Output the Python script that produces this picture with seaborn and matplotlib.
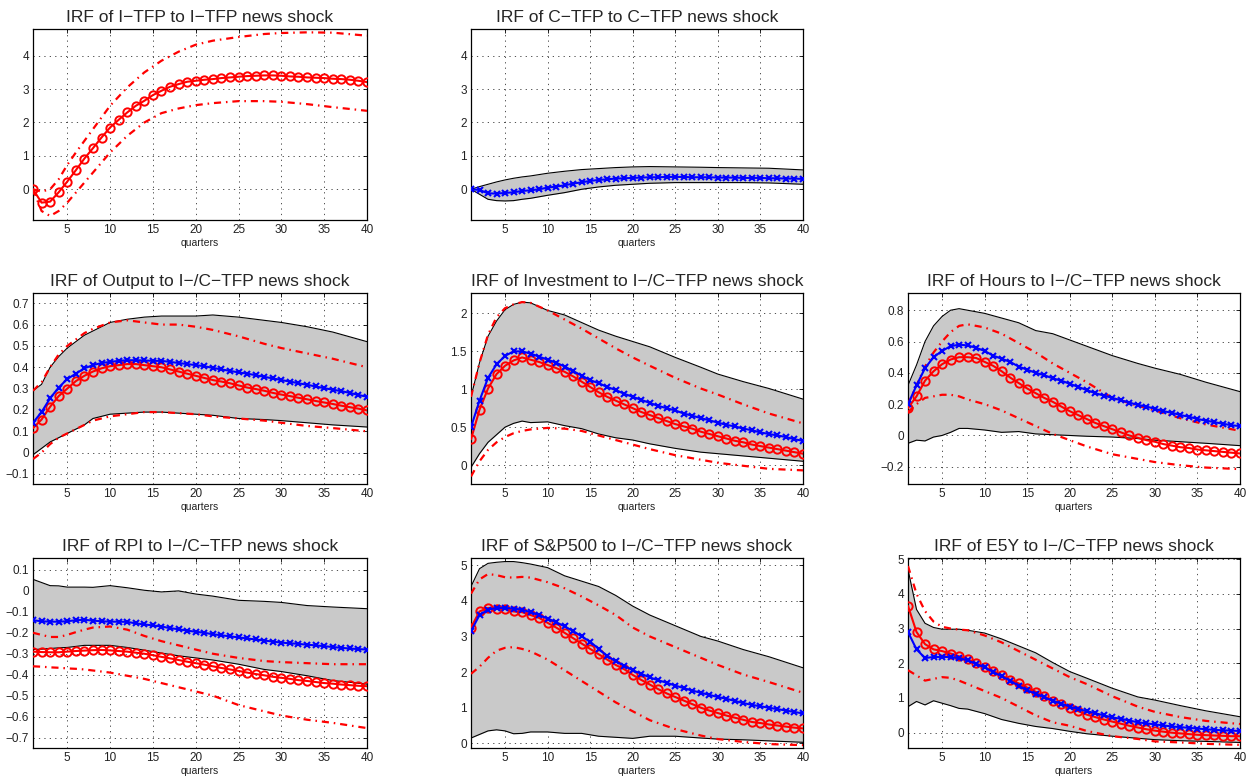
import matplotlib
matplotlib.use("Agg")
import matplotlib.pyplot as plt
import seaborn as sns
from matplotlib.ticker import FuncFormatter

# quarters for the point estimates and the coarser grid used for the bands
Q = list(range(1, 41))
QB = [1, 2, 3, 4, 5, 6, 7, 8, 10, 12, 14, 16, 18, 20, 22, 25, 28, 30, 33, 36, 40]

# ---- IRF of I-TFP to I-TFP news shock
itfp_red = [0, -0.4, -0.37, -0.09, 0.23, 0.57, 0.92, 1.23, 1.55, 1.85,
            2.08, 2.3, 2.5, 2.65, 2.82, 2.95, 3.07, 3.15, 3.22, 3.25,
            3.28, 3.3, 3.33, 3.35, 3.37, 3.39, 3.4, 3.41, 3.41, 3.4,
            3.38, 3.37, 3.35, 3.34, 3.33, 3.31, 3.3, 3.28, 3.25, 3.21]
itfp_red_hi = [0, -0.07, 0.0, 0.3, 0.73, 1.1, 1.45, 1.8, 2.5, 3.05, 3.5,
               3.85, 4.12, 4.33, 4.45, 4.56, 4.65, 4.68, 4.7, 4.69, 4.6]
itfp_red_lo = [0, -0.65, -0.8, -0.65, -0.4, -0.1, 0.2, 0.5, 1.1, 1.6, 2.0,
               2.28, 2.42, 2.52, 2.58, 2.64, 2.64, 2.62, 2.55, 2.46, 2.35]

# ---- IRF of C-TFP to C-TFP news shock
ctfp_blue = [0, -0.02, -0.12, -0.13, -0.11, -0.09, -0.05, -0.03, 0.0, 0.05,
             0.08, 0.12, 0.17, 0.21, 0.25, 0.28, 0.3, 0.32, 0.33, 0.34,
             0.35, 0.36, 0.36, 0.37, 0.37, 0.37, 0.36, 0.36, 0.36, 0.35,
             0.35, 0.35, 0.34, 0.34, 0.34, 0.33, 0.33, 0.32, 0.32, 0.31]
ctfp_gray_hi = [0, 0.08, 0.15, 0.22, 0.28, 0.33, 0.37, 0.4, 0.48, 0.54, 0.59,
                0.62, 0.65, 0.67, 0.68, 0.67, 0.66, 0.65, 0.64, 0.63, 0.58]
ctfp_gray_lo = [0, -0.15, -0.3, -0.34, -0.35, -0.34, -0.3, -0.27, -0.18, -0.1, 0.0,
                0.07, 0.12, 0.15, 0.18, 0.2, 0.2, 0.2, 0.2, 0.19, 0.15]

# ---- Output
out_red = [0.115, 0.155, 0.215, 0.265, 0.3, 0.335, 0.36, 0.38, 0.395, 0.405,
           0.41, 0.415, 0.415, 0.41, 0.405, 0.4, 0.39, 0.38, 0.37, 0.36,
           0.35, 0.34, 0.333, 0.325, 0.315, 0.305, 0.298, 0.29, 0.28, 0.272,
           0.265, 0.257, 0.25, 0.242, 0.235, 0.228, 0.22, 0.213, 0.206, 0.198]
out_blue = [0.14, 0.19, 0.255, 0.305, 0.345, 0.37, 0.395, 0.41, 0.42, 0.425,
            0.43, 0.433, 0.433, 0.432, 0.43, 0.43, 0.425, 0.42, 0.415, 0.41,
            0.405, 0.397, 0.39, 0.383, 0.376, 0.37, 0.363, 0.355, 0.348, 0.34,
            0.333, 0.325, 0.318, 0.31, 0.302, 0.295, 0.288, 0.28, 0.27, 0.262]
out_gray_hi = [0.29, 0.32, 0.4, 0.45, 0.49, 0.52, 0.55, 0.57, 0.61, 0.625, 0.635,
               0.64, 0.64, 0.64, 0.645, 0.635, 0.62, 0.61, 0.59, 0.565, 0.52]
out_gray_lo = [-0.01, 0.02, 0.05, 0.07, 0.09, 0.11, 0.13, 0.16, 0.18, 0.185, 0.19,
               0.19, 0.185, 0.18, 0.175, 0.16, 0.155, 0.15, 0.14, 0.13, 0.12]
out_red_hi = [0.29, 0.33, 0.4, 0.46, 0.5, 0.53, 0.56, 0.58, 0.61, 0.62, 0.61,
              0.6, 0.6, 0.59, 0.575, 0.545, 0.51, 0.49, 0.465, 0.44, 0.4]
out_red_lo = [-0.03, 0.0, 0.04, 0.07, 0.09, 0.11, 0.13, 0.15, 0.17, 0.18, 0.19,
              0.19, 0.185, 0.18, 0.17, 0.16, 0.15, 0.14, 0.125, 0.115, 0.1]

# ---- Investment
inv_red = [0.34, 0.73, 1.01, 1.2, 1.31, 1.38, 1.42, 1.39, 1.36, 1.32,
           1.28, 1.23, 1.17, 1.1, 1.03, 0.96, 0.9, 0.85, 0.8, 0.75,
           0.7, 0.66, 0.62, 0.58, 0.54, 0.51, 0.48, 0.44, 0.41, 0.38,
           0.35, 0.32, 0.3, 0.27, 0.25, 0.23, 0.21, 0.19, 0.17, 0.15]
inv_blue = [0.5, 0.85, 1.15, 1.33, 1.44, 1.5, 1.5, 1.47, 1.43, 1.39,
            1.35, 1.3, 1.24, 1.18, 1.12, 1.08, 1.03, 0.99, 0.94, 0.9,
            0.86, 0.82, 0.78, 0.75, 0.72, 0.68, 0.65, 0.62, 0.59, 0.56,
            0.53, 0.51, 0.48, 0.46, 0.43, 0.41, 0.39, 0.37, 0.34, 0.32]
inv_gray_hi = [0.9, 1.35, 1.7, 1.9, 2.05, 2.12, 2.15, 2.14, 2.04, 1.98, 1.88,
               1.78, 1.7, 1.63, 1.56, 1.42, 1.29, 1.2, 1.1, 1.01, 0.87]
inv_gray_lo = [-0.03, 0.15, 0.3, 0.4, 0.5, 0.55, 0.58, 0.56, 0.57, 0.52, 0.48,
               0.41, 0.36, 0.33, 0.28, 0.22, 0.17, 0.15, 0.12, 0.09, 0.05]
inv_red_hi = [0.9, 1.35, 1.72, 1.95, 2.07, 2.12, 2.15, 2.14, 2.04, 1.92, 1.8,
              1.67, 1.54, 1.42, 1.31, 1.15, 1.01, 0.93, 0.8, 0.68, 0.55]
inv_red_lo = [-0.15, 0.05, 0.2, 0.3, 0.37, 0.42, 0.45, 0.47, 0.49, 0.48, 0.45,
              0.39, 0.33, 0.27, 0.21, 0.13, 0.07, 0.03, -0.01, -0.05, -0.07]

# ---- Hours
hrs_red = [0.175, 0.25, 0.35, 0.41, 0.455, 0.485, 0.5, 0.5, 0.495, 0.47,
           0.445, 0.41, 0.37, 0.335, 0.3, 0.27, 0.24, 0.215, 0.185, 0.155,
           0.13, 0.105, 0.08, 0.06, 0.04, 0.02, 0.0, -0.015, -0.03, -0.04,
           -0.055, -0.065, -0.075, -0.08, -0.09, -0.095, -0.1, -0.105, -0.11, -0.115]
hrs_blue = [0.2, 0.32, 0.43, 0.5, 0.54, 0.57, 0.58, 0.575, 0.56, 0.54,
            0.51, 0.49, 0.47, 0.44, 0.42, 0.4, 0.385, 0.365, 0.35, 0.33,
            0.31, 0.29, 0.27, 0.255, 0.24, 0.225, 0.21, 0.195, 0.185, 0.17,
            0.155, 0.145, 0.13, 0.12, 0.105, 0.095, 0.085, 0.075, 0.065, 0.06]
hrs_gray_hi = [0.32, 0.45, 0.6, 0.7, 0.76, 0.8, 0.81, 0.8, 0.78, 0.75, 0.72,
               0.67, 0.65, 0.61, 0.57, 0.51, 0.46, 0.43, 0.39, 0.34, 0.28]
hrs_gray_lo = [-0.05, -0.03, -0.035, -0.01, 0.0, 0.02, 0.045, 0.045, 0.035, 0.02, 0.025,
               0.01, 0.005, 0.0, -0.005, -0.01, -0.02, -0.03, -0.04, -0.05, -0.065]
hrs_red_hi = [0.2, 0.32, 0.44, 0.53, 0.6, 0.66, 0.7, 0.71, 0.69, 0.65, 0.59,
              0.53, 0.46, 0.4, 0.34, 0.24, 0.19, 0.16, 0.11, 0.07, 0.03]
hrs_red_lo = [0.15, 0.2, 0.24, 0.25, 0.26, 0.26, 0.25, 0.23, 0.2, 0.16, 0.11,
              0.06, 0.01, -0.03, -0.07, -0.12, -0.15, -0.17, -0.19, -0.205, -0.215]

# ---- RPI
rpi_red = [-0.29, -0.292, -0.293, -0.293, -0.29, -0.287, -0.285, -0.283, -0.282, -0.284,
           -0.287, -0.29, -0.295, -0.3, -0.307, -0.315, -0.322, -0.33, -0.338, -0.345,
           -0.352, -0.36, -0.368, -0.375, -0.382, -0.39, -0.397, -0.403, -0.41, -0.415,
           -0.42, -0.426, -0.43, -0.435, -0.44, -0.443, -0.447, -0.45, -0.453, -0.455]
rpi_blue = [-0.14, -0.145, -0.147, -0.147, -0.145, -0.14, -0.138, -0.142, -0.145, -0.147,
            -0.147, -0.148, -0.155, -0.16, -0.165, -0.17, -0.178, -0.183, -0.19, -0.195,
            -0.2, -0.207, -0.212, -0.217, -0.222, -0.227, -0.232, -0.237, -0.242, -0.247,
            -0.25, -0.253, -0.257, -0.26, -0.264, -0.268, -0.272, -0.275, -0.278, -0.28]
rpi_gray_hi = [0.055, 0.04, 0.025, 0.024, 0.018, 0.018, 0.018, 0.017, 0.025, 0.015, 0.003,
               -0.005, 0.0, -0.015, -0.025, -0.045, -0.05, -0.055, -0.07, -0.077, -0.085]
rpi_gray_lo = [-0.28, -0.278, -0.275, -0.272, -0.27, -0.265, -0.26, -0.26, -0.26, -0.27, -0.283,
               -0.297, -0.31, -0.32, -0.33, -0.35, -0.375, -0.385, -0.405, -0.428, -0.445]
rpi_red_hi = [-0.2, -0.21, -0.22, -0.22, -0.21, -0.197, -0.185, -0.175, -0.17, -0.185, -0.215,
              -0.24, -0.26, -0.28, -0.3, -0.32, -0.335, -0.34, -0.345, -0.35, -0.35]
rpi_red_lo = [-0.36, -0.362, -0.365, -0.367, -0.37, -0.372, -0.375, -0.38, -0.39, -0.405, -0.42,
              -0.44, -0.46, -0.48, -0.5, -0.545, -0.575, -0.595, -0.615, -0.63, -0.655]

# ---- S&P500
sp_red = [3.25, 3.7, 3.8, 3.78, 3.77, 3.7, 3.68, 3.6, 3.52, 3.38,
          3.25, 3.1, 2.95, 2.8, 2.65, 2.5, 2.35, 2.2, 2.08, 1.92,
          1.78, 1.65, 1.52, 1.4, 1.3, 1.2, 1.1, 1.0, 0.92, 0.85,
          0.78, 0.72, 0.66, 0.6, 0.57, 0.53, 0.5, 0.47, 0.44, 0.42]
sp_blue = [3.15, 3.6, 3.75, 3.8, 3.8, 3.78, 3.75, 3.68, 3.6, 3.5,
           3.4, 3.28, 3.15, 3.0, 2.85, 2.65, 2.45, 2.3, 2.18, 2.05,
           1.95, 1.85, 1.77, 1.7, 1.62, 1.55, 1.48, 1.42, 1.36, 1.3,
           1.25, 1.19, 1.13, 1.08, 1.04, 1.0, 0.96, 0.92, 0.88, 0.84]
sp_gray_hi = [4.4, 4.9, 5.05, 5.08, 5.1, 5.1, 5.07, 5.03, 4.93, 4.7, 4.55,
              4.4, 4.15, 3.85, 3.6, 3.3, 3.0, 2.87, 2.63, 2.43, 2.12]
sp_gray_lo = [0.15, 0.25, 0.35, 0.38, 0.35, 0.27, 0.28, 0.32, 0.32, 0.28, 0.28,
              0.2, 0.17, 0.14, 0.2, 0.2, 0.15, 0.12, 0.1, 0.07, 0.03]
sp_red_hi = [4.2, 4.6, 4.75, 4.72, 4.66, 4.65, 4.67, 4.65, 4.52, 4.35, 4.12,
             3.87, 3.6, 3.25, 3.0, 2.7, 2.4, 2.2, 1.93, 1.72, 1.42]
sp_red_lo = [1.95, 2.15, 2.4, 2.6, 2.68, 2.7, 2.65, 2.58, 2.35, 2.05, 1.75,
             1.45, 1.15, 0.9, 0.65, 0.4, 0.22, 0.12, 0.04, -0.02, -0.05]

# ---- E5Y
e5y_red = [3.65, 2.9, 2.55, 2.4, 2.35, 2.28, 2.2, 2.12, 2.0, 1.88,
           1.78, 1.65, 1.52, 1.42, 1.3, 1.18, 1.05, 0.92, 0.82, 0.72,
           0.62, 0.52, 0.45, 0.38, 0.32, 0.26, 0.2, 0.15, 0.1, 0.06,
           0.03, 0.0, -0.02, -0.04, -0.06, -0.07, -0.08, -0.09, -0.1, -0.1]
e5y_blue = [2.9, 2.4, 2.15, 2.18, 2.18, 2.18, 2.15, 2.08, 1.98, 1.88,
            1.75, 1.62, 1.5, 1.35, 1.22, 1.12, 1.02, 0.92, 0.84, 0.75,
            0.68, 0.62, 0.56, 0.5, 0.44, 0.4, 0.35, 0.3, 0.27, 0.24,
            0.21, 0.18, 0.16, 0.14, 0.12, 0.1, 0.08, 0.07, 0.06, 0.05]
e5y_gray_hi = [4.7, 3.55, 3.15, 3.03, 2.98, 2.98, 2.98, 2.95, 2.87, 2.7, 2.5,
               2.3, 2.02, 1.76, 1.57, 1.28, 1.03, 0.94, 0.78, 0.63, 0.46]
e5y_gray_lo = [0.75, 0.9, 0.8, 0.92, 0.85, 0.78, 0.7, 0.68, 0.55, 0.38, 0.27,
               0.18, 0.12, 0.04, -0.03, -0.1, -0.16, -0.2, -0.23, -0.25, -0.28]
e5y_red_hi = [4.8, 4.0, 3.5, 3.2, 3.05, 3.0, 2.97, 2.95, 2.8, 2.6, 2.35,
              2.1, 1.85, 1.6, 1.4, 1.05, 0.75, 0.6, 0.45, 0.34, 0.25]
e5y_red_lo = [1.8, 1.65, 1.5, 1.55, 1.6, 1.58, 1.5, 1.4, 1.2, 1.0, 0.75,
              0.5, 0.3, 0.2, 0.05, -0.1, -0.18, -0.25, -0.28, -0.32, -0.35]

XTICKS = [5, 10, 15, 20, 25, 30, 35, 40]

W, H = 1258, 779
COLS = [(33, 367), (471, 803), (908, 1240)]
ROWS = [(29, 220), (293, 484), (558, 748)]

sns.set_style("white")
plt.rcParams["font.family"] = ["Liberation Sans", "DejaVu Sans"]

fig = plt.figure(figsize=(W / 100, H / 100), dpi=100)

DASHDOT = (0, (3.2, 2.2, 0.7, 2.2))


def fmt(v, _pos):
    return ("%g" % round(v, 4)).replace("-", "\u2212")


def draw_panel(r, c, title, ylim, yticks, red=None, red_hi=None, red_lo=None,
               blue=None, gray_hi=None, gray_lo=None):
    (x0, x1), (y0, y1) = COLS[c], ROWS[r]
    ax = fig.add_axes([x0 / W, 1 - y1 / H, (x1 - x0) / W, (y1 - y0) / H])
    if gray_hi is not None:
        ax.fill_between(QB, gray_lo, gray_hi, color="#c9c9c9", lw=0, zorder=1)
        sns.lineplot(x=QB, y=gray_hi, ax=ax, color="black", lw=0.8, zorder=2)
        sns.lineplot(x=QB, y=gray_lo, ax=ax, color="black", lw=0.8, zorder=2)
    if red_hi is not None:
        sns.lineplot(x=QB, y=red_hi, ax=ax, color="red", lw=1.6, linestyle=DASHDOT, zorder=3)
        sns.lineplot(x=QB, y=red_lo, ax=ax, color="red", lw=1.6, linestyle=DASHDOT, zorder=3)
    if red is not None:
        sns.lineplot(x=Q, y=red, ax=ax, color="red", lw=1.5, marker="o", markersize=6,
                     markerfacecolor="none", markeredgecolor="red", markeredgewidth=1.4, zorder=4)
    if blue is not None:
        sns.lineplot(x=Q, y=blue, ax=ax, color="blue", lw=1.5, marker="x", markersize=4.5,
                     markeredgecolor="blue", markeredgewidth=1.5, zorder=5)
    ax.set_xlim(1, 40)
    ax.set_ylim(*ylim)
    ax.set_xticks(XTICKS)
    ax.set_yticks(yticks)
    ax.yaxis.set_major_formatter(FuncFormatter(fmt))
    ax.tick_params(direction="in", length=3, width=0.6, labelsize=8.5, pad=3,
                   top=True, right=True, colors="black", labelcolor="#222222")
    ax.grid(True, linestyle=(0, (1.5, 5)), color="#333333", lw=0.6)
    for s in ax.spines.values():
        s.set_color("black")
        s.set_linewidth(0.9)
    ax.set_title(title, fontsize=12.5, pad=5)
    ax.set_xlabel("quarters", fontsize=7.5, labelpad=1, color="#222222")
    ax.set_ylabel("")
    return ax


draw_panel(0, 0, "IRF of I\u2212TFP to I\u2212TFP news shock", (-0.92, 4.8), [0, 1, 2, 3, 4],
           red=itfp_red, red_hi=itfp_red_hi, red_lo=itfp_red_lo)
draw_panel(0, 1, "IRF of C\u2212TFP to C\u2212TFP news shock", (-0.92, 4.8), [0, 1, 2, 3, 4],
           blue=ctfp_blue, gray_hi=ctfp_gray_hi, gray_lo=ctfp_gray_lo)
draw_panel(1, 0, "IRF of Output to I\u2212/C\u2212TFP news shock", (-0.147, 0.748),
           [-0.1, 0, 0.1, 0.2, 0.3, 0.4, 0.5, 0.6, 0.7],
           red=out_red, red_hi=out_red_hi, red_lo=out_red_lo,
           blue=out_blue, gray_hi=out_gray_hi, gray_lo=out_gray_lo)
draw_panel(1, 1, "IRF of Investment to I\u2212/C\u2212TFP news shock", (-0.25, 2.27),
           [0, 0.5, 1, 1.5, 2],
           red=inv_red, red_hi=inv_red_hi, red_lo=inv_red_lo,
           blue=inv_blue, gray_hi=inv_gray_hi, gray_lo=inv_gray_lo)
draw_panel(1, 2, "IRF of Hours to I\u2212/C\u2212TFP news shock", (-0.31, 0.91),
           [-0.2, 0, 0.2, 0.4, 0.6, 0.8],
           red=hrs_red, red_hi=hrs_red_hi, red_lo=hrs_red_lo,
           blue=hrs_blue, gray_hi=hrs_gray_hi, gray_lo=hrs_gray_lo)
draw_panel(2, 0, "IRF of RPI to I\u2212/C\u2212TFP news shock", (-0.75, 0.157),
           [-0.7, -0.6, -0.5, -0.4, -0.3, -0.2, -0.1, 0, 0.1],
           red=rpi_red, red_hi=rpi_red_hi, red_lo=rpi_red_lo,
           blue=rpi_blue, gray_hi=rpi_gray_hi, gray_lo=rpi_gray_lo)
draw_panel(2, 1, "IRF of S&P500 to I\u2212/C\u2212TFP news shock", (-0.13, 5.2),
           [0, 1, 2, 3, 4, 5],
           red=sp_red, red_hi=sp_red_hi, red_lo=sp_red_lo,
           blue=sp_blue, gray_hi=sp_gray_hi, gray_lo=sp_gray_lo)
draw_panel(2, 2, "IRF of E5Y to I\u2212/C\u2212TFP news shock", (-0.44, 5.03),
           [0, 1, 2, 3, 4, 5],
           red=e5y_red, red_hi=e5y_red_hi, red_lo=e5y_red_lo,
           blue=e5y_blue, gray_hi=e5y_gray_hi, gray_lo=e5y_gray_lo)

fig.savefig("out.png", dpi=100)
